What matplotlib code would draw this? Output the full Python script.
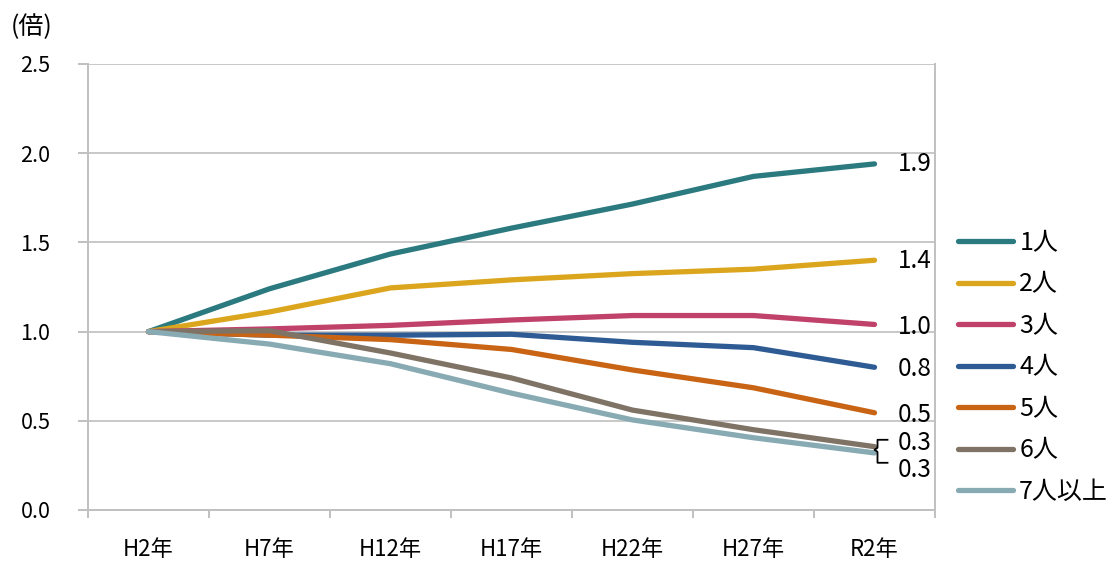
from matplotlib import pyplot as plt
from matplotlib.lines import Line2D
import matplotlib.transforms as mtransforms
import numpy as np

plt.rcParams["font.family"] = ["Noto Sans CJK JP", "DejaVu Sans"]
plt.rcParams["font.size"] = 16

years = ["H2年", "H7年", "H12年", "H17年", "H22年", "H27年", "R2年"]
names = ["1人", "2人", "3人", "4人", "5人", "6人", "7人以上"]

p1 = [1.00, 1.24, 1.435, 1.58, 1.715, 1.87, 1.94]
p2 = [1.00, 1.11, 1.245, 1.29, 1.325, 1.35, 1.40]
p3 = [1.00, 1.015, 1.035, 1.065, 1.09, 1.09, 1.04]
p4 = [1.00, 0.98, 0.98, 0.985, 0.94, 0.91, 0.80]
p5 = [1.00, 0.98, 0.955, 0.90, 0.785, 0.685, 0.545]
p6 = [1.00, 1.005, 0.88, 0.74, 0.56, 0.45, 0.355]
p7 = [1.00, 0.93, 0.82, 0.655, 0.505, 0.405, 0.32]
series = [p1, p2, p3, p4, p5, p6, p7]

end_labels = ["1.9", "1.4", "1.0", "0.8", "0.5", "0.3", "0.3"]

colors = ["#2a7a80", "#dba61d", "#c0416a", "#2f5b94", "#c86414", "#7f7366", "#88aab2"]
# label offsets in pixels (dx, dy)
label_off = [(23, 0), (23, -1), (23, -3), (23, -2), (23, -2), (23, 4), (23, -17)]

fig = plt.figure(figsize=(11.13, 5.66), dpi=100)
ax = fig.add_axes([88 / 1113, 1 - 510 / 566, 847 / 1113, 446 / 566])

x = np.arange(len(years))
for vals, name, c in zip(series, names, colors):
    ax.plot(x, vals, color=c, lw=3.8, solid_capstyle="round",
            solid_joinstyle="round", label=name)

for vals, lab, (dx, dy) in zip(series, end_labels, label_off):
    ax.annotate(lab, (x[-1], vals[-1]), xytext=(dx, dy), textcoords="offset pixels",
                ha="left", va="center", fontsize=17.5)

ax.set_xlim(-0.5, len(years) - 0.5)
ax.set_ylim(0, 2.5)
ax.set_yticks(np.arange(0, 2.51, 0.5))
ax.set_yticklabels([f"{v:.1f}" for v in np.arange(0, 2.51, 0.5)])
ax.set_xticks(x)
ax.set_xticklabels(years)
ax.set_xticks(np.arange(-0.5, len(years)), minor=True)

# bracket joining the 6人 / 7人以上 labels
mid = (p6[-1] + p7[-1]) / 2
base = ax.transData.transform((x[-1], mid))
bx = np.array([13, 3, 3, 0, 3, 3, 13]) + base[0]
by = base[1] - np.array([-10, -10, -2, 0, 2, 13, 13])
fig.add_artist(Line2D(bx, by, color="black", lw=1.3,
                      transform=mtransforms.IdentityTransform()))

ax.grid(axis="y", color="#c8c8c8", lw=1.4)
ax.set_axisbelow(True)
for s in ["left", "right", "bottom"]:
    ax.spines[s].set_color("#c0c0c0")
    ax.spines[s].set_linewidth(1.4)
ax.spines["top"].set_visible(False)

ax.tick_params(axis="y", length=7, width=1.4, color="#c0c0c0", pad=20,
               labelsize=15.5)
ax.tick_params(axis="x", which="major", length=0, pad=20, labelsize=16)
ax.tick_params(axis="x", which="minor", length=6, width=1.4, color="#c0c0c0")

fig.text(11 / 1113, 1 - 27 / 566, "(倍)", ha="left", va="center", fontsize=18)

fig.legend(loc="upper left", bbox_to_anchor=(958 / 1113, 1 - 230 / 566),
           frameon=False, handlelength=2.2, handletextpad=0.25,
           labelspacing=0.62, borderpad=0, borderaxespad=0, fontsize=18)

fig.savefig("out.png", dpi=100)
